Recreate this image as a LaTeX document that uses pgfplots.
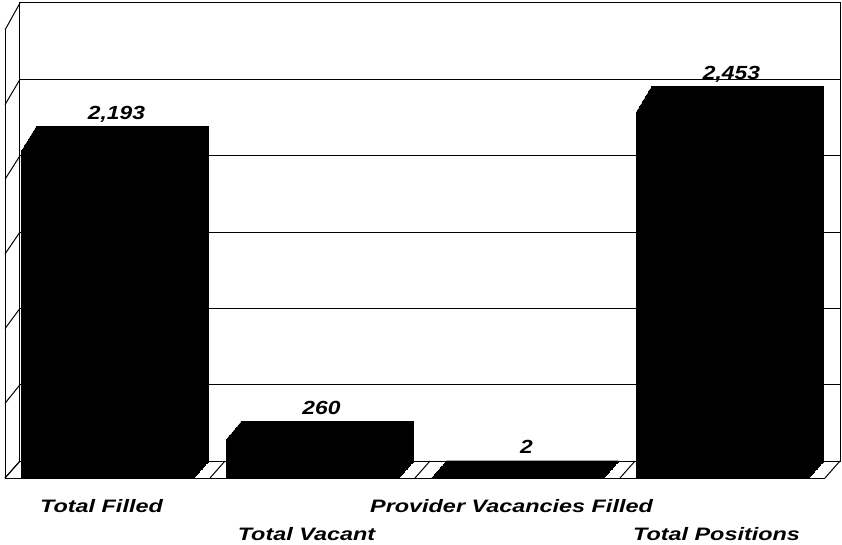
\documentclass[border=0pt]{standalone}
\usepackage{fontspec}
\setmainfont{Liberation Sans}
\usepackage{graphicx}
\usepackage{pgfplots}
\usepackage{pgfplotstable}
\pgfplotsset{compat=1.18}
\pgfplotstableread{
x v
0 2193
1 260
2 2
3 2453
}\datatable
\newcommand\catlab[1]{\scalebox{1.3}[1]{\fontsize{18}{20}\selectfont\bfseries\itshape #1}}
\newcommand\vallab[1]{\scalebox{1.2}[1]{\fontsize{19}{21}\selectfont\bfseries\itshape #1}}
\pgfplotsset{
  base/.style={scale only axis, width=820pt, xmin=-0.5, xmax=3.5, ymin=0, ymax=3000, anchor=south west, clip=false},
  hid/.style={base, axis lines=none, xtick=\empty, ytick=\empty},
}
\begin{document}
\begin{tikzpicture}
\path[use as bounding box] (0pt,0pt) rectangle (842pt,544pt);
% back wall
\begin{axis}[base, at={(20pt,83pt)}, height=458pt, xtick=\empty, ytick={0,500,...,3000}, yticklabels={}, major tick length=0pt,
  ymajorgrids, grid style={black, line width=1pt}, axis line style={black, line width=1pt}]
\addplot[draw=none] coordinates {(0,0)};
\coordinate (b0) at (axis cs:-0.5,0);
\coordinate (b500) at (axis cs:-0.5,500);
\coordinate (b1000) at (axis cs:-0.5,1000);
\coordinate (b1500) at (axis cs:-0.5,1500);
\coordinate (b2000) at (axis cs:-0.5,2000);
\coordinate (b2500) at (axis cs:-0.5,2500);
\coordinate (b3000) at (axis cs:-0.5,3000);
\coordinate (bx0) at (axis cs:-0.5,0);
\coordinate (bx1) at (axis cs:0.5,0);
\coordinate (bx2) at (axis cs:1.5,0);
\coordinate (bx3) at (axis cs:2.5,0);
\coordinate (bx4) at (axis cs:3.5,0);
\end{axis}
% front reference frame (labels)
\begin{axis}[base, at={(5pt,66pt)}, height=448pt, axis line style={draw=none}, ytick=\empty,
  xtick={0,1,2,3}, major tick length=0pt,
  xticklabels={{\catlab{Total Filled}},{\raisebox{-28pt}{\catlab{Total Vacant}}},{\catlab{Provider Vacancies Filled}},{\raisebox{-28pt}{\catlab{Total Positions}}}},
  xticklabel style={anchor=base, yshift=-34pt, xshift=-6pt, inner sep=0pt}]
\addplot[draw=none] coordinates {(0,0)};
\coordinate (f0) at (axis cs:-0.5,0);
\coordinate (f500) at (axis cs:-0.5,500);
\coordinate (f1000) at (axis cs:-0.5,1000);
\coordinate (f1500) at (axis cs:-0.5,1500);
\coordinate (f2000) at (axis cs:-0.5,2000);
\coordinate (f2500) at (axis cs:-0.5,2500);
\coordinate (f3000) at (axis cs:-0.5,3000);
\coordinate (fx0) at (axis cs:-0.5,0);
\coordinate (fx1) at (axis cs:0.5,0);
\coordinate (fx2) at (axis cs:1.5,0);
\coordinate (fx3) at (axis cs:2.5,0);
\coordinate (fx4) at (axis cs:3.5,0);
\end{axis}
% left wall and floor
\draw[line width=1pt] (f0) -- (f3000);
\foreach \k in {0,500,...,3000} \draw[line width=1pt] (b\k) -- (f\k);
\draw[line width=1pt] (fx0) -- (fx4);
\foreach \k in {0,...,4} \draw[line width=1pt] (bx\k) -- (fx\k);
% extruded bars
\foreach \i in {20,19,...,0}{
  \pgfmathsetmacro\ax{5+15*\i/20}
  \pgfmathsetmacro\ay{66+17*\i/20}
  \pgfmathsetmacro\ah{448+10*\i/20}
  \begin{axis}[hid, at={(\ax pt,\ay pt)}, height=\ah pt, ybar, bar width=0.84]
  \addplot[fill=black, draw=black, line width=0.3pt] table[x=x,y=v]{\datatable};
  \end{axis}
}
% value labels
\begin{axis}[hid, at={(20pt,83pt)}, height=458pt]
\addplot[draw=none, mark=none, nodes near coords={\vallab{\pgfmathprintnumber[assume math mode=true, 1000 sep={,}]{\pgfplotspointmeta}}},
  nodes near coords style={anchor=base, yshift=7pt, xshift=-6pt, inner sep=0pt}] table[x=x,y=v]{\datatable};
\end{axis}
\end{tikzpicture}
\end{document}
